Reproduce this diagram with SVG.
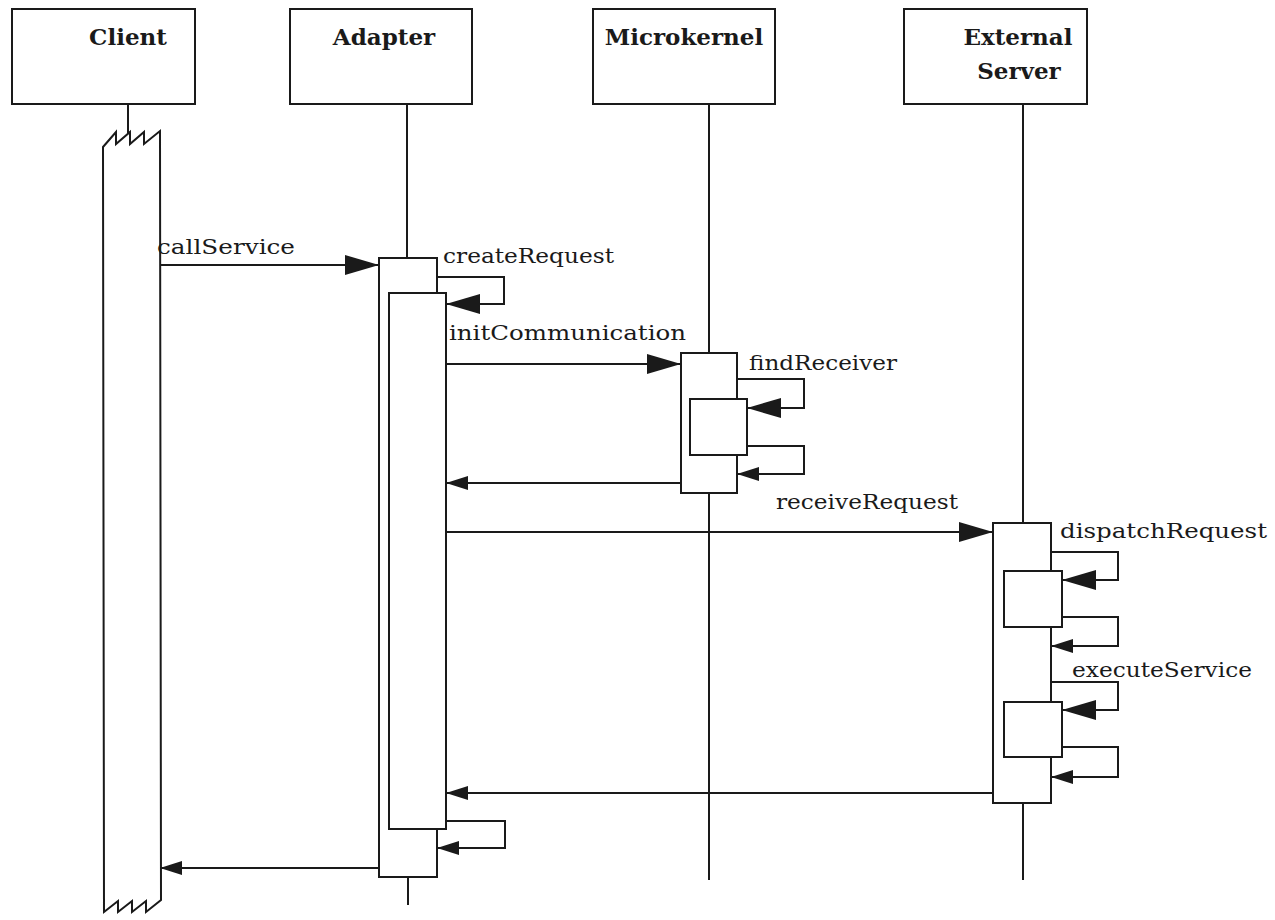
<svg xmlns="http://www.w3.org/2000/svg" width="1275" height="920" viewBox="0 0 1275 920">
  <style>
    .box { fill: #fff; stroke: #1a1a1a; stroke-width: 2; }
    .life { fill: none; stroke: #1a1a1a; stroke-width: 2; }
    .msg { fill: none; stroke: #1a1a1a; stroke-width: 2; }
    .head { font-family: "DejaVu Serif", "Liberation Serif", serif; font-weight: bold; font-size: 23px; fill: #1a1a1a; text-anchor: middle; }
    .lbl { font-family: "DejaVu Serif", "Liberation Serif", serif; font-size: 21px; fill: #1a1a1a; }
  </style>
  <defs>
    <marker id="big" markerWidth="34" markerHeight="20" refX="34" refY="10" orient="auto" markerUnits="userSpaceOnUse">
      <path d="M0,0 L34,10 L0,20 Z" fill="#1a1a1a"/>
    </marker>
    <marker id="small" markerWidth="22" markerHeight="16" refX="22" refY="8" orient="auto" markerUnits="userSpaceOnUse">
      <path d="M0,1 L22,8 L0,15 Z" fill="#1a1a1a"/>
    </marker>
  </defs>
  <rect width="1275" height="920" fill="#fff"/>

  <!-- Client -->
  <g id="client">
    <rect class="box" x="12" y="9" width="183" height="95"/>
    <text class="head" x="128" y="45">Client</text>
    <line class="life" x1="128" y1="104" x2="128" y2="134"/>
    <path class="box" d="M103,147 L116,132 L116,144 L130,132 L130,144 L144,132 L144,144 L160,131 L161,900 L146,912 L146,901 L132,912 L132,901 L118,912 L118,901 L104,912 Z"/>
  </g>

  <!-- Adapter -->
  <g id="adapter">
    <rect class="box" x="290" y="9" width="182" height="95"/>
    <text class="head" x="384" y="45">Adapter</text>
    <line class="life" x1="407" y1="104" x2="407" y2="258"/>
    <line class="life" x1="408" y1="877" x2="408" y2="905"/>
    <rect class="box" x="379" y="258" width="58" height="619"/>
    <rect class="box" x="389" y="293" width="57" height="536"/>
  </g>

  <!-- Microkernel -->
  <g id="microkernel">
    <rect class="box" x="593" y="9" width="182" height="95"/>
    <text class="head" x="684" y="45">Microkernel</text>
    <line class="life" x1="709" y1="104" x2="709" y2="353"/>
    <line class="life" x1="709" y1="493" x2="709" y2="880"/>
    <rect class="box" x="681" y="353" width="56" height="140"/>
    <rect class="box" x="690" y="399" width="57" height="56"/>
  </g>

  <!-- External Server -->
  <g id="external-server">
    <rect class="box" x="904" y="9" width="183" height="95"/>
    <text class="head" x="1018" y="45">External</text>
    <text class="head" x="1019" y="79">Server</text>
    <line class="life" x1="1023" y1="104" x2="1023" y2="523"/>
    <line class="life" x1="1023" y1="803" x2="1023" y2="880"/>
    <rect class="box" x="993" y="523" width="58" height="280"/>
    <rect class="box" x="1004" y="571" width="58" height="56"/>
    <rect class="box" x="1004" y="702" width="58" height="55"/>
  </g>

  <!-- Messages -->
  <g id="connectors">
    <path class="msg" d="M160,265 H379" marker-end="url(#big)"/>
    <path class="msg" d="M437,277 H504 V304 H446" marker-end="url(#big)"/>
    <path class="msg" d="M446,364 H681" marker-end="url(#big)"/>
    <path class="msg" d="M737,379 H804 V408 H747" marker-end="url(#big)"/>
    <path class="msg" d="M747,446 H804 V474 H737" marker-end="url(#small)"/>
    <path class="msg" d="M681,483 H446" marker-end="url(#small)"/>
    <path class="msg" d="M446,532 H993" marker-end="url(#big)"/>
    <path class="msg" d="M1051,552 H1118 V580 H1062" marker-end="url(#big)"/>
    <path class="msg" d="M1062,617 H1118 V646 H1051" marker-end="url(#small)"/>
    <path class="msg" d="M1051,682 H1118 V710 H1062" marker-end="url(#big)"/>
    <path class="msg" d="M1062,747 H1118 V777 H1051" marker-end="url(#small)"/>
    <path class="msg" d="M993,793 H446" marker-end="url(#small)"/>
    <path class="msg" d="M446,821 H505 V848 H437" marker-end="url(#small)"/>
    <path class="msg" d="M379,868 H160" marker-end="url(#small)"/>
  </g>

  <!-- Message labels -->
  <g id="labels">
    <text class="lbl" x="157" y="254" textLength="138" lengthAdjust="spacingAndGlyphs">callService</text>
    <text class="lbl" x="443" y="263" textLength="171" lengthAdjust="spacingAndGlyphs">createRequest</text>
    <text class="lbl" x="449" y="340" textLength="237" lengthAdjust="spacingAndGlyphs">initCommunication</text>
    <text class="lbl" x="749" y="370" textLength="148" lengthAdjust="spacingAndGlyphs">findReceiver</text>
    <text class="lbl" x="776" y="509" textLength="182" lengthAdjust="spacingAndGlyphs">receiveRequest</text>
    <text class="lbl" x="1060" y="538" textLength="207" lengthAdjust="spacingAndGlyphs">dispatchRequest</text>
    <text class="lbl" x="1072" y="677" textLength="180" lengthAdjust="spacingAndGlyphs">executeService</text>
  </g>
</svg>
